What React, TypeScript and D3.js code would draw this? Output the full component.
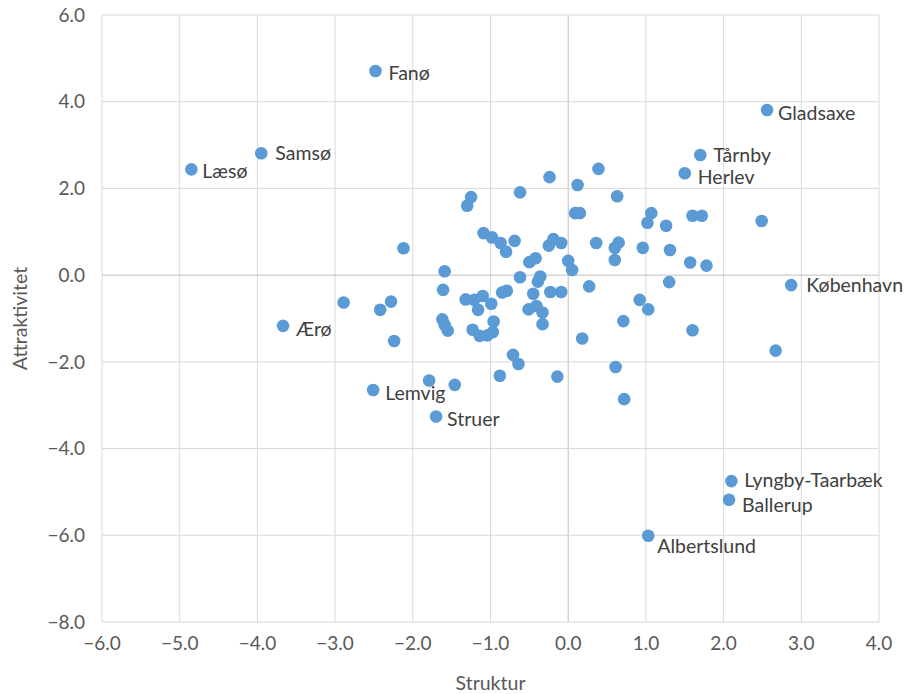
import React from "react";
import * as d3 from "d3";

const labels: string[] = [
  "Fanø", "Gladsaxe", "Samsø", "Læsø", "Tårnby", "Herlev", "København", "Ærø",
  "Lemvig", "Struer", "Lyngby-Taarbæk", "Ballerup", "Albertslund",
];
const labeledX: number[] = [-2.48, 2.56, -3.95, -4.85, 1.70, 1.50, 2.87, -3.67, -2.51, -1.70, 2.10, 2.07, 1.03];
const labeledY: number[] = [4.71, 3.81, 2.81, 2.44, 2.77, 2.35, -0.23, -1.17, -2.65, -3.26, -4.75, -5.18, -6.01];

const otherX: number[] = [
  -0.24, 0.12, 0.39, 0.63, -1.25, -1.30, -0.62, 0.09, 0.15, 1.07,
  1.02, 1.26, 1.60, 1.72, 2.49, -2.12, -1.09, -0.98, -0.87, -0.80,
  -0.69, -0.19, -0.25, -0.09, 0.00, 0.05, -0.50, -0.42, -0.62, -0.36,
  -0.39, -1.59, 0.36, 0.65, 0.60, 0.96, 1.31, 0.60, 1.57, 1.78,
  -1.61, -2.89, -2.42, -2.28, -2.24, -1.32, -1.21, -1.10, -1.16, -0.99,
  -0.85, -0.79, -0.45, -0.23, -0.09, 0.27, 1.30, -0.51, -0.41, -0.33,
  -0.33, -1.62, -1.59, -1.55, -1.23, -1.14, -1.04, -0.96, -0.97, 0.92,
  1.03, 0.71, 0.18, 1.60, 2.67, -0.71, -0.64, -0.88, -0.14, 0.61,
  0.72, -1.79, -1.46,
];
const otherY: number[] = [
  2.26, 2.08, 2.45, 1.82, 1.80, 1.60, 1.91, 1.43, 1.43, 1.43,
  1.21, 1.14, 1.37, 1.37, 1.25, 0.62, 0.97, 0.87, 0.74, 0.54,
  0.79, 0.83, 0.68, 0.74, 0.33, 0.12, 0.30, 0.39, -0.05, -0.03,
  -0.15, 0.09, 0.74, 0.75, 0.63, 0.63, 0.58, 0.35, 0.29, 0.22,
  -0.34, -0.63, -0.80, -0.61, -1.52, -0.56, -0.57, -0.48, -0.80, -0.66,
  -0.40, -0.36, -0.43, -0.39, -0.39, -0.26, -0.16, -0.79, -0.71, -0.86,
  -1.13, -1.02, -1.15, -1.28, -1.26, -1.40, -1.39, -1.07, -1.31, -0.57,
  -0.79, -1.06, -1.46, -1.27, -1.74, -1.84, -2.05, -2.32, -2.34, -2.12,
  -2.86, -2.43, -2.53,
];

const xTicks: number[] = [-6, -5, -4, -3, -2, -1, 0, 1, 2, 3, 4];
const yTicks: number[] = [-8, -6, -4, -2, 0, 2, 4, 6];
const xTitle = "Struktur";
const yTitle = "Attraktivitet";

const W = 907;
const H = 694;
const M = { left: 102, right: 879, top: 15, bottom: 622 };
const FONT = "Lato, 'Open Sans', sans-serif";
const fmt = (v: number) => d3.format(".1f")(v).replace("-", "\u2212");

// label placement nudges (pixels) as placed in the original chart
const labelNudge: Record<string, [number, number]> = {
  "Fanø": [13, 2], "Gladsaxe": [11, 3], "Samsø": [14, 0], "Læsø": [11, 2],
  "Tårnby": [13, 0], "Herlev": [13, 4], "København": [15, 0], "Ærø": [13, 3],
  "Lemvig": [12, 3], "Struer": [11, 2], "Lyngby-Taarbæk": [13, -1],
  "Ballerup": [13, 5], "Albertslund": [9, 10],
};

export default function App() {
  const x = d3.scaleLinear().domain([-6, 4]).range([M.left, M.right]);
  const y = d3.scaleLinear().domain([-8, 6]).range([M.bottom, M.top]);
  const color = "#5B9BD5";

  const others = otherX.map((v, i) => ({ x: v, y: otherY[i] }));
  const labeled = labels.map((n, i) => ({ name: n, x: labeledX[i], y: labeledY[i] }));

  return (
    <svg width={W} height={H} style={{ position: "absolute", left: 0, top: 0, background: "#fff" }} fontFamily={FONT}>
      <rect x={0} y={0} width={W} height={H} fill="#fff" />
      {xTicks.map((t) => (
        <line key={"gx" + t} x1={x(t)} x2={x(t)} y1={M.top} y2={M.bottom} stroke={t === 0 ? "#bfbfbf" : "#d9d9d9"} strokeWidth={1} />
      ))}
      {yTicks.map((t) => (
        <line key={"gy" + t} x1={M.left} x2={M.right} y1={y(t)} y2={y(t)} stroke={t === 0 ? "#bfbfbf" : "#d9d9d9"} strokeWidth={1} />
      ))}
      {xTicks.map((t) => (
        <text key={"tx" + t} x={x(t)} y={M.bottom + 28} textAnchor="middle" fontSize={19} fill="#595959">{fmt(t)}</text>
      ))}
      {yTicks.map((t) => (
        <text key={"ty" + t} x={M.left - 17} y={y(t)} dy="0.35em" textAnchor="end" fontSize={19} fill="#595959">{fmt(t)}</text>
      ))}
      <text x={(M.left + M.right) / 2} y={690} textAnchor="middle" fontSize={19.5} fill="#595959">{xTitle}</text>
      <text transform={`translate(27, ${(M.top + M.bottom) / 2}) rotate(-90)`} textAnchor="middle" fontSize={19.5} fill="#595959">{yTitle}</text>
      {others.map((p, i) => (
        <circle key={"o" + i} cx={x(p.x)} cy={y(p.y)} r={6.3} fill={color} />
      ))}
      {labeled.map((p) => {
        const [nx, ny] = labelNudge[p.name] || [12, 0];
        return (
          <g key={p.name}>
            <circle cx={x(p.x)} cy={y(p.y)} r={6.3} fill={color} />
            <text x={x(p.x) + nx} y={y(p.y) + ny} dy="0.36em" fontSize={19.5} fill="#404040">{p.name}</text>
          </g>
        );
      })}
    </svg>
  );
}
